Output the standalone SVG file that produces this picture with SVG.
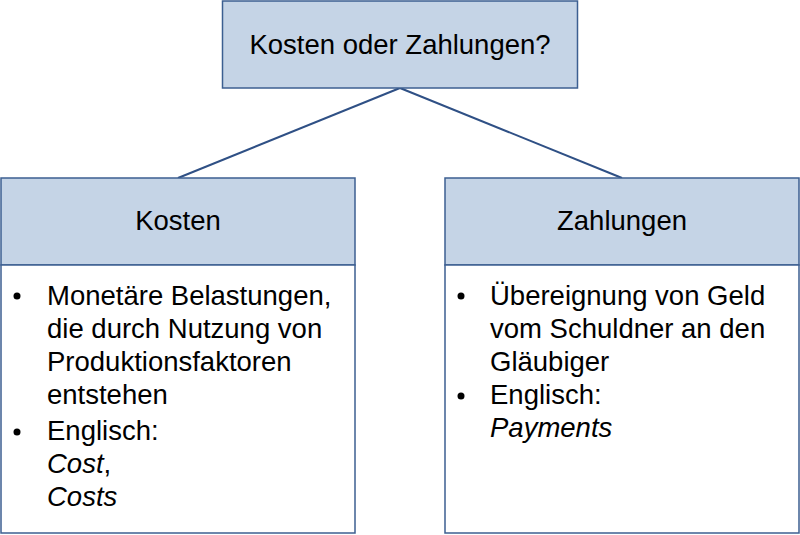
<svg xmlns="http://www.w3.org/2000/svg" width="800" height="535" viewBox="0 0 800 535">
<style>
.h{fill:#c5d4e6;stroke:#3c5f91;stroke-width:1.5}
.b{fill:#fff;stroke:#3c5f91;stroke-width:1.5}
text{font-family:"Liberation Sans",Arial,sans-serif;font-size:27.5px;fill:#000}
.c{text-anchor:middle}
</style>
<rect width="800" height="535" fill="#fff"/>
<g id="connectors" stroke="#2f5085" stroke-width="2" fill="none">
<line x1="400" y1="88" x2="178" y2="178"/>
<line x1="400" y1="88" x2="622" y2="178"/>
</g>
<g id="root"><rect class="h" x="222.5" y="1" width="355" height="87"/><text class="c" x="400" y="54">Kosten oder Zahlungen?</text></g>
<g id="kosten">
<rect class="h" x="1" y="178" width="354" height="87"/><text class="c" x="178" y="230">Kosten</text>
<rect class="b" x="1" y="265" width="354" height="268"/>
<circle cx="17" cy="296" r="3.5"/><circle cx="17" cy="432" r="3.5"/>
<text x="47" y="305">Monetäre Belastungen,</text>
<text x="47" y="338">die durch Nutzung von</text>
<text x="47" y="371">Produktionsfaktoren</text>
<text x="47" y="404">entstehen</text>
<text x="47" y="440">Englisch:</text>
<text x="47" y="473"><tspan font-style="italic">Cost</tspan>,</text>
<text x="47" y="506" font-style="italic">Costs</text>
</g>
<g id="zahlungen">
<rect class="h" x="445" y="178" width="354" height="87"/><text class="c" x="622" y="230">Zahlungen</text>
<rect class="b" x="445" y="265" width="354" height="268"/>
<circle cx="461" cy="296" r="3.5"/><circle cx="461" cy="396" r="3.5"/>
<text x="490" y="305">Übereignung von Geld</text>
<text x="490" y="338">vom Schuldner an den</text>
<text x="490" y="371">Gläubiger</text>
<text x="490" y="404">Englisch:</text>
<text x="490" y="437" font-style="italic">Payments</text>
</g>
</svg>
